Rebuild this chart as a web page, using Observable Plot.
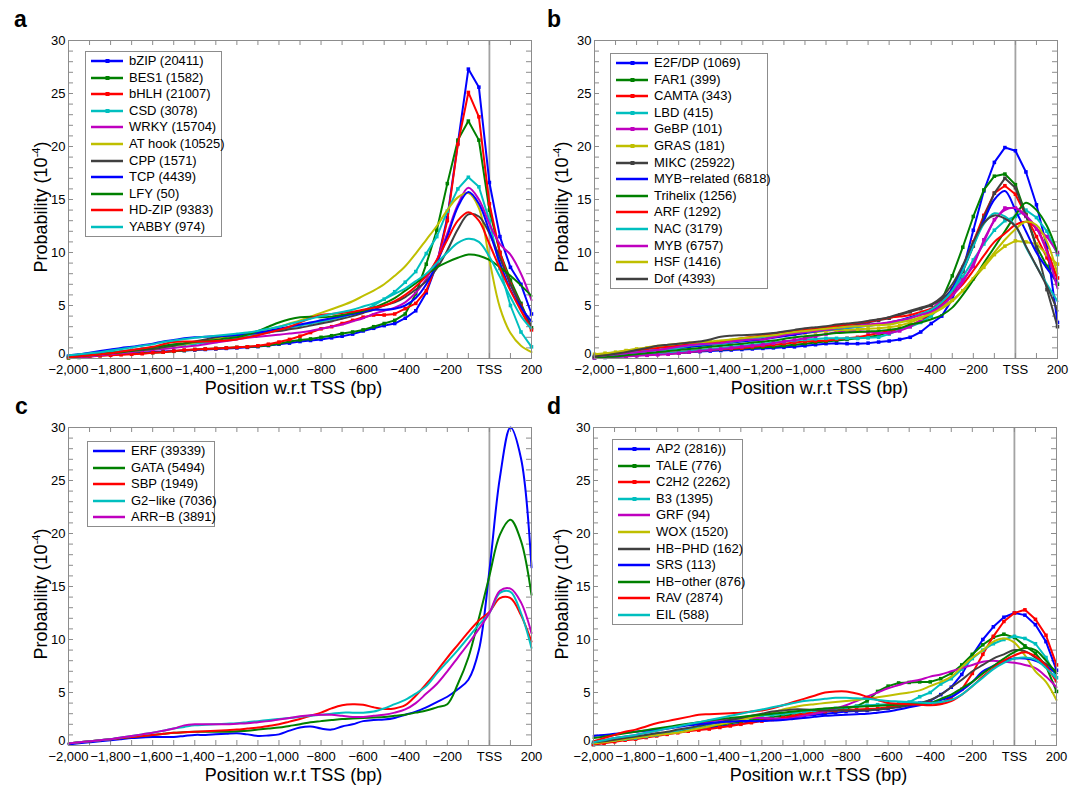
<!DOCTYPE html>
<html><head><meta charset="utf-8">
<script src="https://cdn.jsdelivr.net/npm/d3@7"></script>
<script src="https://cdn.jsdelivr.net/npm/@observablehq/plot@0.6"></script>
<style>
body{margin:0;background:#fff;font-family:Arial,"Liberation Sans",sans-serif;color:#000;}
#root{position:relative;width:1079px;height:788px;overflow:hidden;background:#fff;}
.panel{position:absolute;}
.panel svg{overflow:visible;}
.letter{position:absolute;font-weight:bold;font-size:23px;line-height:23px;}
.xt{position:absolute;font-size:18px;line-height:18px;white-space:nowrap;transform:translateX(-50%);}
.yt{position:absolute;font-size:18px;line-height:18px;white-space:nowrap;transform:translate(-50%,-50%) rotate(-90deg);}
.yt sup{font-size:11px;vertical-align:7px;line-height:0;}
.legend{position:absolute;border:1px solid #8c8c8c;background:#fff;font-size:13px;box-sizing:border-box;}
.lrow{position:absolute;left:0;height:16px;width:100%;}
.lrow span{position:absolute;left:43px;top:0;line-height:16px;white-space:nowrap;}
</style>
</head><body><div id="root"></div>
<script>
// ---- shared axis data ----
const positions = [-2000,-1950,-1900,-1850,-1800,-1750,-1700,-1650,-1600,-1550,-1500,-1450,-1400,-1350,-1300,-1250,-1200,-1150,-1100,-1050,-1000,-950,-900,-850,-800,-750,-700,-650,-600,-550,-500,-450,-400,-350,-300,-250,-200,-150,-100,-50,0,50,100,150,200];
const xTicks = [-2000,-1800,-1600,-1400,-1200,-1000,-800,-600,-400,-200,0,200];
const yTicks = [5,10,15,20,25,30];
const yZeroTick = [0];
const minorXTicks = d3.range(-2000, 201, 100);
const minorYTicks = d3.range(0, 31, 1);

// ---- panel a ----
const labelsA = ["bZIP (20411)","BES1 (1582)","bHLH (21007)","CSD (3078)","WRKY (15704)","AT hook (10525)","CPP (1571)","TCP (4439)","LFY (50)","HD-ZIP (9383)","YABBY (974)"];
const seriesA = [
 [0.2,0.25,0.3,0.35,0.4,0.45,0.5,0.55,0.62,0.66, 0.7,0.75,0.8,0.85,0.9,0.95,1.0,1.05,1.12,1.22, 1.35,1.45,1.6,1.7,1.8,1.95,2.1,2.3,2.6,2.85, 3.1,3.3,3.8,4.5,6.2,8.9,13.3,20.3,27.3,25.6, 16.6,11.5,8.6,7.0,4.2],
 [0.05,0.1,0.2,0.28,0.35,0.4,0.45,0.5,0.55,0.6, 0.68,0.75,0.85,0.9,0.95,1.0,1.05,1.1,1.15,1.25, 1.4,1.6,1.75,1.85,2.0,2.15,2.35,2.5,2.7,3.0, 3.3,3.6,4.2,6.1,8.9,12.1,16.5,20.6,22.4,20.6, 14.0,10.0,7.4,5.2,2.9],
 [0.1,0.15,0.2,0.25,0.3,0.35,0.4,0.45,0.55,0.6, 0.7,0.8,0.85,0.9,0.95,1.0,1.05,1.1,1.2,1.35, 1.55,1.8,2.1,2.45,2.8,3.0,3.3,3.6,3.9,4.1, 4.1,4.2,4.7,5.2,6.4,8.9,13.0,20.2,25.1,22.8, 14.6,10.0,7.0,5.0,2.7],
 [0.2,0.3,0.4,0.5,0.6,0.7,0.8,0.9,1.0,1.1, 1.2,1.3,1.4,1.5,1.6,1.75,1.9,2.1,2.3,2.5, 2.7,2.9,3.1,3.3,3.5,3.7,3.9,4.2,4.5,5.0, 5.6,6.3,7.2,8.2,9.9,11.5,13.9,16.0,17.1,16.2, 13.0,8.5,5.0,2.5,1.1],
 [0.1,0.15,0.2,0.3,0.4,0.5,0.6,0.7,0.8,0.9, 1.0,1.1,1.2,1.35,1.5,1.65,1.8,1.95,2.05,2.15, 2.25,2.35,2.45,2.6,2.8,3.0,3.2,3.5,3.8,4.2, 4.5,4.8,5.3,6.2,7.5,9.3,11.8,14.5,16.1,15.0, 12.7,10.8,9.8,8.0,5.5],
 [0.2,0.25,0.3,0.4,0.5,0.6,0.7,0.8,0.9,1.05, 1.2,1.35,1.5,1.7,1.9,2.05,2.2,2.4,2.55,2.75, 3.0,3.3,3.6,3.95,4.3,4.65,5.0,5.4,5.9,6.4, 7.0,7.8,8.7,9.9,11.2,12.5,14.0,15.2,15.6,14.2, 9.3,4.8,2.4,1.2,0.6],
 [0.2,0.25,0.3,0.4,0.5,0.6,0.7,0.8,0.9,1.05, 1.2,1.4,1.6,1.8,2.0,2.15,2.2,2.3,2.4,2.5, 2.6,2.75,2.9,3.1,3.3,3.5,3.75,4.0,4.3,4.6, 5.0,5.3,5.8,6.5,7.3,8.5,10.2,12.2,13.6,13.4, 11.8,9.5,7.0,5.0,3.0],
 [0.3,0.4,0.55,0.7,0.85,1.0,1.1,1.25,1.4,1.6, 1.75,1.9,2.0,2.05,2.1,2.15,2.2,2.3,2.45,2.6, 2.8,3.0,3.2,3.4,3.6,3.8,4.0,4.2,4.4,4.6, 4.6,4.7,5.0,5.7,7.0,9.0,11.5,14.3,15.7,14.6, 12.0,9.0,6.5,4.8,3.5],
 [0.1,0.2,0.3,0.4,0.5,0.6,0.75,0.9,1.05,1.2, 1.35,1.45,1.55,1.65,1.75,1.9,2.0,2.25,2.6,3.0, 3.4,3.7,3.9,3.95,3.9,3.95,4.1,4.3,4.5,4.8, 5.2,5.7,6.4,7.1,7.9,8.6,9.1,9.5,9.8,9.7, 9.3,8.6,7.8,6.9,5.9],
 [0.1,0.2,0.3,0.4,0.5,0.65,0.8,0.95,1.1,1.35, 1.55,1.6,1.6,1.6,1.65,1.7,1.8,2.0,2.2,2.45, 2.7,3.0,3.4,3.8,4.1,4.2,4.3,4.4,4.6,4.8, 5.0,5.4,6.0,6.8,7.8,9.3,11.2,13.0,13.8,13.0, 10.8,8.5,6.4,4.5,2.7],
 [0.3,0.4,0.5,0.6,0.75,0.9,1.05,1.2,1.35,1.55, 1.7,1.85,1.95,2.05,2.15,2.25,2.35,2.45,2.6,2.8, 3.0,3.25,3.5,3.75,4.0,4.2,4.4,4.6,4.9,5.2, 5.6,6.1,6.6,7.3,8.0,9.0,10.0,10.9,11.3,11.0, 9.6,7.7,5.8,4.0,2.8]
];

// ---- panel b ----
const labelsB = ["E2F/DP (1069)","FAR1 (399)","CAMTA (343)","LBD (415)","GeBP (101)","GRAS (181)","MIKC (25922)","MYB\u2212related (6818)","Trihelix (1256)","ARF (1292)","NAC (3179)","MYB (6757)","HSF (1416)","Dof (4393)"];
const seriesB = [
 [0.1,0.15,0.2,0.25,0.3,0.4,0.45,0.5,0.55,0.6, 0.65,0.7,0.75,0.8,0.85,0.9,0.95,1.0,1.05,1.1, 1.2,1.3,1.4,1.45,1.4,1.4,1.45,1.55,1.65,1.8, 2.0,2.5,3.3,4.0,5.6,8.3,12.1,15.8,18.5,19.9, 19.6,17.6,14.5,10.5,3.4],
 [0.1,0.15,0.2,0.25,0.3,0.35,0.4,0.45,0.5,0.6, 0.7,0.8,0.85,0.9,0.95,1.0,1.05,1.1,1.2,1.3, 1.4,1.5,1.6,1.7,1.8,1.9,2.0,2.2,2.5,2.8, 3.1,3.5,4.2,5.5,7.8,10.5,13.4,15.9,17.2,17.4, 16.4,13.6,10.6,8.7,7.0],
 [0.1,0.2,0.25,0.3,0.35,0.4,0.5,0.55,0.6,0.7, 0.8,0.85,0.9,0.95,1.0,1.1,1.2,1.3,1.4,1.5, 1.6,1.65,1.7,1.8,1.9,2.0,2.2,2.4,2.6,2.8, 3.1,3.6,4.3,5.2,6.6,8.6,11.0,13.5,15.6,16.3, 15.5,13.5,11.5,9.5,7.6],
 [0.05,0.1,0.15,0.2,0.3,0.35,0.45,0.5,0.6,0.7, 0.8,0.9,1.0,1.1,1.2,1.3,1.4,1.5,1.6,1.7, 1.8,1.85,1.9,1.9,1.9,1.9,1.95,2.0,2.3,2.7, 3.0,3.4,4.0,5.0,6.3,7.7,9.3,10.8,12.1,13.0, 13.4,14.0,13.3,12.0,9.8],
 [0.05,0.1,0.15,0.2,0.25,0.3,0.35,0.4,0.5,0.6, 0.7,0.8,0.9,1.0,1.1,1.2,1.3,1.45,1.6,1.75, 1.9,2.1,2.3,2.5,2.6,2.6,2.5,2.4,2.4,2.6, 3.0,3.6,4.6,5.6,6.2,7.4,8.7,11.2,13.1,14.2, 14.2,13.4,12.2,11.5,10.0],
 [0.4,0.5,0.6,0.75,0.9,1.0,1.1,1.2,1.3,1.4, 1.5,1.55,1.6,1.7,1.8,1.9,2.0,2.1,2.2,2.3, 2.4,2.5,2.6,2.7,2.7,2.75,2.8,2.85,2.95,3.1, 3.4,3.8,4.3,4.9,5.5,6.4,7.5,8.6,9.8,10.6, 11.1,11.0,10.8,9.8,8.9],
 [0.2,0.3,0.4,0.5,0.6,0.7,0.8,0.9,1.0,1.1, 1.2,1.3,1.45,1.6,1.75,1.9,2.0,2.1,2.2,2.3, 2.5,2.7,2.9,3.0,3.1,3.2,3.4,3.6,3.8,4.1, 4.4,4.7,5.0,5.6,6.5,8.2,10.6,13.3,15.6,17.0, 16.1,13.5,10.5,6.5,3.0],
 [0.3,0.35,0.4,0.5,0.6,0.7,0.8,0.9,1.0,1.1, 1.2,1.3,1.4,1.5,1.6,1.7,1.8,1.95,2.1,2.25, 2.4,2.55,2.7,2.8,2.9,3.0,3.1,3.2,3.4,3.6, 3.9,4.2,4.5,5.2,6.6,8.5,10.8,13.0,15.0,15.8, 14.0,12.0,10.0,8.5,7.2],
 [0.1,0.15,0.2,0.3,0.4,0.5,0.6,0.7,0.8,0.9, 1.0,1.1,1.2,1.3,1.4,1.5,1.6,1.7,1.85,2.0, 2.1,2.2,2.3,2.4,2.45,2.5,2.55,2.6,2.7,2.85, 3.2,3.4,3.7,4.1,4.8,6.0,7.4,9.0,10.5,12.0, 13.5,14.7,14.0,12.5,10.0],
 [0.2,0.3,0.45,0.6,0.75,0.9,1.0,1.1,1.2,1.4, 1.5,1.55,1.6,1.75,1.9,2.05,2.2,2.35,2.5,2.6, 2.7,2.8,2.95,3.1,3.2,3.35,3.5,3.65,3.85,3.95, 4.1,4.4,4.7,5.2,6.0,7.0,8.3,9.7,11.0,11.8, 12.6,12.9,12.3,10.2,7.5],
 [0.2,0.3,0.4,0.5,0.6,0.7,0.8,0.9,1.0,1.2, 1.3,1.35,1.4,1.55,1.7,1.85,2.0,2.15,2.3,2.4, 2.5,2.6,2.7,2.8,2.9,3.0,3.1,3.2,3.3,3.55, 3.8,4.2,4.6,5.3,6.4,8.3,10.6,12.7,13.7,13.4, 12.5,10.5,8.7,7.0,5.4],
 [0.2,0.3,0.4,0.5,0.6,0.7,0.8,0.95,1.1,1.25, 1.35,1.4,1.45,1.6,1.7,1.8,1.8,2.0,2.2,2.35, 2.5,2.6,2.7,2.85,3.0,3.1,3.2,3.3,3.4,3.6, 3.8,4.1,4.4,5.0,5.9,7.2,9.0,11.0,13.0,14.0, 14.2,13.5,12.3,10.0,6.6],
 [0.3,0.45,0.6,0.75,0.9,1.05,1.2,1.3,1.4,1.5, 1.55,1.6,1.7,1.8,1.9,2.0,2.1,2.2,2.35,2.5, 2.6,2.7,2.8,2.9,3.0,3.05,3.1,3.15,3.2,3.4, 3.6,3.9,4.2,4.7,5.4,6.4,7.6,8.8,10.0,11.2, 12.2,12.9,12.6,11.0,8.0],
 [0.2,0.3,0.45,0.6,0.8,1.0,1.2,1.3,1.4,1.5, 1.6,1.8,2.05,2.15,2.2,2.25,2.3,2.4,2.55,2.7, 2.85,2.95,3.05,3.2,3.3,3.4,3.55,3.7,3.9,4.2, 4.5,4.8,5.1,5.8,7.0,8.8,11.0,12.8,13.5,13.2, 12.5,10.6,8.7,6.8,4.5]
];

// ---- panel c ----
const labelsC = ["ERF (39339)","GATA (5494)","SBP (1949)","G2\u2212like (7036)","ARR\u2212B (3891)"];
const seriesC = [
 [0.1,0.2,0.3,0.4,0.5,0.6,0.7,0.75,0.8,0.8, 0.8,0.9,1.0,1.0,1.05,1.1,1.15,1.05,0.9,0.95, 1.05,1.4,1.7,1.8,1.6,1.5,1.8,2.0,2.3,2.4, 2.45,2.6,2.9,3.2,3.6,4.1,4.6,5.3,6.2,9.0, 16.5,25.3,30.0,27.1,16.8],
 [0.2,0.3,0.4,0.5,0.6,0.7,0.8,0.9,1.0,1.1, 1.2,1.25,1.3,1.3,1.3,1.3,1.35,1.4,1.5,1.6, 1.7,1.85,2.0,2.2,2.3,2.4,2.5,2.55,2.6,2.65, 2.7,2.8,2.9,3.1,3.3,3.6,3.9,5.8,8.3,12.0, 16.0,19.9,21.3,19.3,14.2],
 [0.2,0.3,0.4,0.5,0.6,0.7,0.8,0.9,1.0,1.1, 1.2,1.25,1.3,1.35,1.4,1.45,1.5,1.6,1.7,1.85, 2.0,2.25,2.5,2.8,3.1,3.5,3.8,3.9,3.85,3.6, 3.45,3.5,3.8,4.7,5.8,7.0,8.3,9.5,10.7,11.8, 12.6,13.9,13.9,12.3,9.8],
 [0.2,0.3,0.4,0.5,0.6,0.75,0.9,1.05,1.2,1.4, 1.6,1.75,1.9,1.95,2.0,2.05,2.1,2.2,2.3,2.4, 2.5,2.6,2.7,2.8,2.9,3.0,3.1,3.1,3.1,3.2, 3.5,3.9,4.3,4.9,5.6,6.8,7.9,9.0,10.2,11.4, 12.5,14.4,14.5,12.5,9.2],
 [0.2,0.3,0.4,0.5,0.6,0.75,0.9,1.05,1.2,1.4, 1.6,1.9,2.0,2.0,2.0,2.0,2.05,2.1,2.2,2.3, 2.45,2.6,2.75,2.85,2.9,2.9,2.8,2.7,2.7,2.8, 2.9,3.1,3.4,4.0,4.9,5.8,7.0,8.3,9.6,11.0, 12.5,14.6,14.8,13.5,10.6]
];

// ---- panel d ----
const labelsD = ["AP2 (2816))","TALE (776)","C2H2 (2262)","B3 (1395)","GRF (94)","WOX (1520)","HB\u2212PHD (162)","SRS (113)","HB\u2212other (876)","RAV (2874)","EIL (588)"];
const seriesD = [
 [0.1,0.3,0.5,0.6,0.7,0.85,1.0,1.15,1.3,1.45, 1.6,1.7,1.8,1.9,2.05,2.2,2.4,2.5,2.6,2.7, 2.8,2.9,3.0,3.1,3.2,3.25,3.3,3.4,3.5,3.7, 3.9,4.0,4.2,4.8,5.5,6.7,8.5,10.0,11.2,12.1, 12.5,12.3,11.4,9.8,7.1],
 [0.1,0.3,0.45,0.6,0.75,0.9,1.05,1.2,1.35,1.5, 1.65,1.8,1.95,2.1,2.25,2.4,2.55,2.7,2.8,2.9, 3.0,3.1,3.2,3.3,3.5,3.7,4.2,5.1,5.6,5.9, 5.95,6.0,6.0,6.3,6.8,7.6,8.6,9.5,10.2,10.5, 10.2,9.4,8.7,7.5,5.1],
 [0.1,0.2,0.35,0.5,0.6,0.75,0.9,1.05,1.2,1.35, 1.45,1.55,1.7,1.85,2.0,2.15,2.3,2.45,2.6,2.8, 3.0,3.1,3.2,3.3,3.35,3.4,3.45,3.5,3.6,3.7, 3.8,3.9,4.0,4.0,4.5,5.3,6.8,8.6,10.3,11.7, 12.5,12.8,11.9,10.4,7.6],
 [0.3,0.4,0.5,0.6,0.7,0.85,1.0,1.2,1.4,1.6, 1.8,2.0,2.2,2.35,2.5,2.65,2.8,2.9,3.0,3.1, 3.2,3.3,3.4,3.5,3.6,3.7,3.8,3.85,3.9,3.95, 4.1,4.6,5.0,5.8,6.3,7.2,8.2,9.0,9.6,10.0, 10.3,10.1,9.6,8.3,6.4],
 [0.3,0.5,0.7,0.85,1.0,1.2,1.4,1.6,1.8,1.95, 2.1,2.25,2.4,2.5,2.6,2.6,2.6,2.55,2.5,2.6, 2.8,3.0,3.2,3.5,3.8,4.2,4.6,5.0,5.4,5.7, 6.0,6.2,6.5,6.7,7.0,7.3,7.6,7.9,8.0,7.9, 7.8,7.6,7.3,6.5,5.5],
 [0.2,0.3,0.45,0.6,0.7,0.85,1.0,1.1,1.2,1.4, 1.6,1.8,2.0,2.2,2.4,2.65,2.9,3.1,3.4,3.6, 3.8,3.9,4.0,4.1,4.2,4.3,4.4,4.55,4.7,4.85, 5.0,5.2,5.6,6.0,6.5,7.4,8.3,9.0,9.8,10.1, 9.7,8.5,7.0,6.0,4.3],
 [0.3,0.4,0.55,0.7,0.85,1.0,1.15,1.3,1.5,1.65, 1.85,2.05,2.2,2.4,2.6,2.8,3.0,3.2,3.3,3.4, 3.4,3.35,3.3,3.3,3.3,3.3,3.3,3.4,3.5,3.6, 3.8,4.0,4.3,4.8,5.5,6.2,7.0,7.6,8.2,8.6, 9.0,8.9,8.3,7.7,7.0],
 [0.9,1.0,1.1,1.2,1.3,1.4,1.5,1.6,1.75,1.9, 2.0,2.1,2.2,2.25,2.3,2.3,2.3,2.35,2.4,2.5, 2.6,2.7,2.8,2.85,2.9,2.95,3.0,3.1,3.2,3.4, 3.6,3.8,4.0,4.3,4.6,5.2,6.0,7.0,7.5,8.0, 8.2,8.2,8.0,7.5,6.8],
 [0.7,0.85,1.0,1.15,1.3,1.45,1.6,1.75,1.9,2.05, 2.2,2.35,2.5,2.6,2.7,2.8,2.9,3.0,3.1,3.2, 3.3,3.4,3.5,3.55,3.6,3.65,3.7,3.75,3.8,3.85, 3.9,3.95,4.0,4.4,4.8,5.4,6.0,6.8,7.5,8.2, 8.8,9.2,9.0,8.0,6.8],
 [0.4,0.7,1.0,1.3,1.5,1.8,2.1,2.3,2.5,2.7, 2.9,2.95,3.0,3.05,3.1,3.2,3.3,3.5,3.8,4.1, 4.4,4.7,5.0,5.1,5.1,4.9,4.6,4.3,4.0,3.95, 3.9,3.85,3.8,3.9,4.2,4.8,5.6,6.5,7.3,8.0, 8.5,8.8,8.4,7.5,6.0],
 [0.3,0.5,0.7,0.85,1.0,1.2,1.4,1.6,1.8,2.0, 2.2,2.4,2.6,2.8,3.0,3.2,3.4,3.6,3.8,4.0, 4.2,4.3,4.4,4.5,4.5,4.45,4.4,4.3,4.2,4.15, 4.1,4.05,4.0,4.1,4.3,4.8,5.6,6.4,7.2,7.8, 8.2,8.3,8.1,7.3,6.3]
];

// ---- styles (kept apart from data) ----
const K = {b:"#0000ff", g:"#008000", r:"#ff0000", c:"#00bfbf", m:"#bf00bf", y:"#bfbf00", k:"#404040"};
const colorsA = [K.b,K.g,K.r,K.c,K.m,K.y,K.k,K.b,K.g,K.r,K.c];
const markedA = [1,1,1,1,0,0,0,0,0,0,0];
const colorsB = [K.b,K.g,K.r,K.c,K.m,K.y,K.k,K.b,K.g,K.r,K.c,K.m,K.y,K.k];
const markedB = [1,1,1,1,1,1,1,0,0,0,0,0,0,0];
const colorsC = [K.b,K.g,K.r,K.c,K.m];
const markedC = [0,0,0,0,0];
const colorsD = [K.b,K.g,K.r,K.c,K.m,K.y,K.k,K.b,K.g,K.r,K.c];
const markedD = [1,1,1,1,0,0,0,0,0,0,0];

const root = document.getElementById("root");
const fmtX = d => d === 0 ? "TSS" : d3.format(",")(d);
const AX = "#8c8c8c";

function drawPanel(cfg, letter, labels, series, colors, marked, leg) {
  const W = cfg.width - cfg.ml - cfg.mr, H = cfg.height - cfg.mt - cfg.mb;
  const marks = [
    Plot.ruleX([0], {stroke: "#a3a3a3", strokeWidth: 1.8}),
    Plot.tickX(minorXTicks, {x: d => d, insetTop: H - 5, stroke: AX}),
    Plot.tickX(minorXTicks, {x: d => d, insetBottom: H - 5, stroke: AX}),
    Plot.tickY(minorYTicks, {y: d => d, insetRight: W - 5, stroke: AX}),
    Plot.tickY(minorYTicks, {y: d => d, insetLeft: W - 5, stroke: AX})
  ];
  series.forEach((vals, k) => {
    const pts = vals.map((v, i) => ({x: positions[i], y: v}));
    marks.push(Plot.line(pts, {x: "x", y: "y", stroke: colors[k], strokeWidth: 2, curve: marked[k] ? "linear" : "catmull-rom"}));
    if (marked[k]) marks.push(Plot.dot(pts, {x: "x", y: "y", fill: colors[k], symbol: "square", r: 2}));
  });
  marks.push(Plot.frame({stroke: AX}));
  marks.push(Plot.axisX(xTicks, {tickSize: 0, tickPadding: 6, tickFormat: fmtX, label: null}));
  marks.push(Plot.axisY(yTicks, {tickSize: 0, tickPadding: 3, label: null}));
  marks.push(Plot.axisY(yZeroTick, {tickSize: 0, tickPadding: 3, dy: -5, label: null}));
  const svg = Plot.plot({
    width: cfg.width, height: cfg.height,
    marginLeft: cfg.ml, marginRight: cfg.mr, marginTop: cfg.mt, marginBottom: cfg.mb,
    x: {domain: [-2000, 200]}, y: {domain: [0, 30]},
    style: {fontFamily: 'Arial, "Liberation Sans", sans-serif', fontSize: "13px", color: "#000", background: "transparent", overflow: "visible"},
    marks
  });
  const wrap = document.createElement("div");
  wrap.className = "panel";
  wrap.style.left = cfg.left + "px"; wrap.style.top = cfg.top + "px";
  wrap.appendChild(svg);
  root.appendChild(wrap);

  const L = document.createElement("div");
  L.className = "letter"; L.textContent = letter;
  L.style.left = leg.lx + "px"; L.style.top = (cfg.top + 8) + "px";
  root.appendChild(L);
  const xt = document.createElement("div");
  xt.className = "xt"; xt.textContent = "Position w.r.t TSS (bp)";
  xt.style.left = (cfg.left + cfg.ml + W / 2 - 6) + "px";
  xt.style.top = (cfg.top + cfg.mt + H + 21) + "px";
  root.appendChild(xt);
  const yt = document.createElement("div");
  yt.className = "yt"; yt.innerHTML = "Probability (10<sup>-4</sup>)";
  yt.style.left = leg.yx + "px"; yt.style.top = (cfg.top + cfg.mt + H / 2 + 8) + "px";
  root.appendChild(yt);
  const box = document.createElement("div");
  box.className = "legend";
  const step = 16.6;
  box.style.left = leg.x + "px"; box.style.top = leg.y + "px";
  box.style.width = leg.w + "px"; box.style.height = (20 + (labels.length - 1) * step) + "px";
  labels.forEach((lab, k) => {
    const row = document.createElement("div");
    row.className = "lrow";
    row.style.top = (10 + k * step - 8 - 1) + "px";
    const mk = marked[k] ? `<rect x="19.5" y="6" width="4" height="4" fill="${colors[k]}"/>` : "";
    row.innerHTML = `<svg width="40" height="16" style="position:absolute;left:0;top:0"><line x1="5" x2="37" y1="8" y2="8" stroke="${colors[k]}" stroke-width="2.5"/>${mk}</svg><span>${lab}</span>`;
    box.appendChild(row);
  });
  root.appendChild(box);
}

drawPanel({left: 0, top: 0, width: 540, height: 400, ml: 68, mr: 9, mt: 40, mb: 42}, "a", labelsA, seriesA, colorsA, markedA, {x: 85, y: 51, w: 137, lx: 14, yx: 41});
drawPanel({left: 540, top: 0, width: 539, height: 400, ml: 54, mr: 22, mt: 40, mb: 42}, "b", labelsB, seriesB, colorsB, markedB, {x: 610, y: 53, w: 158, lx: 547, yx: 562});
drawPanel({left: 0, top: 387, width: 540, height: 401, ml: 68, mr: 9, mt: 40, mb: 43}, "c", labelsC, seriesC, colorsC, markedC, {x: 87, y: 441, w: 128, lx: 15, yx: 41});
drawPanel({left: 540, top: 387, width: 539, height: 401, ml: 53, mr: 23, mt: 40, mb: 43}, "d", labelsD, seriesD, colorsD, markedD, {x: 612, y: 439, w: 131, lx: 547, yx: 562});
</script>
</body></html>
